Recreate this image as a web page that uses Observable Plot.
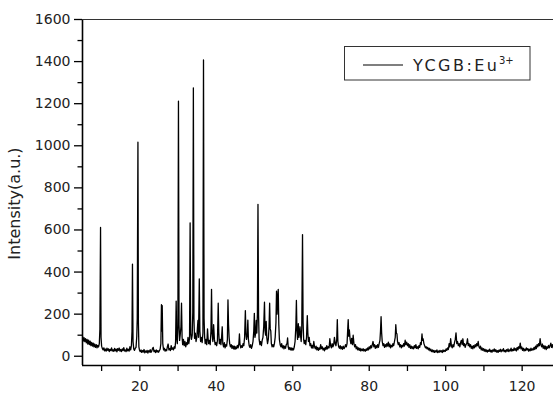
<!DOCTYPE html>
<html><head><meta charset="utf-8">
<script src="https://cdn.jsdelivr.net/npm/d3@7"></script>
<script src="https://cdn.jsdelivr.net/npm/@observablehq/plot@0.6"></script>
<style>
html,body{margin:0;padding:0;background:#fff;}
#chart{position:relative;width:553px;height:393px;overflow:hidden;}
</style>
</head><body><div id="chart"></div>
<script>
// 2-theta (deg), intensity (a.u.)
const scan05to20 = [[5.0,95],[5.2,72],[5.4,88],[5.6,70],[5.8,84],[6.0,64],[6.2,80],[6.4,58],[6.6,76],[6.8,55],[7.0,72],[7.2,50],[7.4,66],[7.6,48],[7.8,62],[8.0,45],[8.2,58],[8.4,42],[8.6,55],[8.8,40],[9.0,52],[9.2,44],[9.4,60],[9.55,128],[9.72,612],[9.85,90],[10.0,48],[10.2,36],[10.4,30],[10.6,40],[10.8,26],[11.0,34],[11.2,24],[11.4,38],[11.6,28],[11.8,35],[12.0,22],[12.2,33],[12.4,27],[12.6,40],[12.8,25],[13.0,31],[13.2,23],[13.4,37],[13.6,26],[13.8,34],[14.0,21],[14.2,36],[14.4,28],[14.6,39],[14.8,24],[15.0,32],[15.2,22],[15.4,35],[15.6,27],[15.8,41],[16.0,25],[16.2,30],[16.4,22],[16.6,38],[16.8,26],[17.0,33],[17.2,24],[17.4,45],[17.6,30],[17.8,52],[17.95,120],[18.07,438],[18.22,70],[18.4,35],[18.6,28],[18.8,38],[19.0,42],[19.2,95],[19.32,180],[19.5,1017],[19.62,160],[19.75,45],[19.9,30]];
const scan20to40 = [[20.1,22],[20.3,30],[20.5,18],[20.7,27],[20.9,20],[21.1,32],[21.3,16],[21.5,25],[21.7,19],[21.9,28],[22.1,15],[22.3,26],[22.5,20],[22.7,31],[22.9,18],[23.1,24],[23.3,36],[23.5,42],[23.7,22],[23.9,28],[24.1,17],[24.3,30],[24.5,20],[24.7,27],[24.9,19],[25.1,26],[25.3,33],[25.5,60],[25.65,245],[25.75,120],[25.85,240],[26.0,60],[26.2,30],[26.4,38],[26.6,24],[26.8,32],[27.0,26],[27.2,45],[27.4,58],[27.6,30],[27.8,36],[28.0,27],[28.2,50],[28.4,33],[28.6,40],[28.8,30],[29.0,45],[29.2,38],[29.35,70],[29.5,262],[29.65,90],[29.8,60],[29.95,140],[30.1,1212],[30.25,150],[30.4,75],[30.55,100],[30.75,140],[30.9,252],[31.05,90],[31.2,55],[31.4,80],[31.6,50],[31.8,70],[32.0,45],[32.2,65],[32.4,55],[32.6,90],[32.8,60],[33.0,85],[33.15,634],[33.3,110],[33.5,80],[33.7,100],[33.85,210],[34.0,1275],[34.15,180],[34.3,85],[34.5,110],[34.7,70],[34.9,90],[35.05,130],[35.2,170],[35.35,90],[35.55,368],[35.7,120],[35.9,70],[36.1,90],[36.3,65],[36.5,110],[36.65,1408],[36.8,180],[36.95,90],[37.1,60],[37.3,80],[37.5,55],[37.7,130],[37.85,85],[38.0,60],[38.2,75],[38.4,55],[38.6,120],[38.75,318],[38.9,110],[39.1,70],[39.3,150],[39.5,80],[39.7,55],[39.9,65]];
const scan40to65 = [[40.1,50],[40.3,75],[40.5,252],[40.65,110],[40.8,60],[41.0,80],[41.2,55],[41.4,95],[41.55,140],[41.7,60],[41.9,45],[42.1,65],[42.3,40],[42.5,55],[42.7,48],[42.9,80],[43.05,268],[43.2,150],[43.35,90],[43.5,60],[43.7,45],[43.9,55],[44.1,38],[44.3,50],[44.5,35],[44.7,48],[44.9,33],[45.1,45],[45.3,36],[45.5,52],[45.7,40],[45.9,60],[46.05,106],[46.2,55],[46.4,40],[46.6,50],[46.8,42],[47.0,60],[47.2,50],[47.4,90],[47.6,217],[47.75,110],[47.9,80],[48.1,100],[48.25,172],[48.4,80],[48.6,50],[48.8,42],[49.0,55],[49.2,38],[49.4,50],[49.6,70],[49.8,120],[49.95,204],[50.1,90],[50.3,110],[50.45,170],[50.6,110],[50.75,200],[50.9,722],[51.05,200],[51.2,80],[51.4,55],[51.6,70],[51.8,50],[52.0,75],[52.2,90],[52.4,140],[52.6,257],[52.75,120],[52.9,100],[53.05,165],[53.2,90],[53.4,60],[53.6,80],[53.8,140],[53.95,252],[54.1,130],[54.25,120],[54.4,60],[54.6,45],[54.8,55],[55.0,45],[55.2,60],[55.4,90],[55.6,160],[55.75,309],[55.9,200],[56.05,280],[56.2,318],[56.35,150],[56.5,80],[56.7,55],[56.9,45],[57.1,60],[57.3,40],[57.5,50],[57.7,35],[57.9,48],[58.1,38],[58.3,55],[58.5,60],[58.65,87],[58.8,45],[59.0,32],[59.2,42],[59.4,30],[59.6,40],[59.8,28],[60.0,38],[60.2,30],[60.4,45],[60.6,70],[60.8,140],[60.95,265],[61.1,120],[61.25,80],[61.45,155],[61.6,90],[61.75,110],[61.9,140],[62.05,95],[62.2,70],[62.35,130],[62.55,578],[62.7,160],[62.85,80],[63.0,60],[63.2,75],[63.4,55],[63.6,90],[63.8,193],[63.95,110],[64.1,70],[64.3,90],[64.5,50],[64.7,60],[64.9,40]];
const scan65to95 = [[65.1,52],[65.3,38],[65.5,70],[65.7,45],[65.9,35],[66.1,48],[66.3,30],[66.5,42],[66.7,28],[66.9,40],[67.1,32],[67.3,55],[67.5,36],[67.7,45],[67.9,30],[68.1,38],[68.3,26],[68.5,42],[68.7,33],[68.9,50],[69.1,35],[69.3,45],[69.5,40],[69.7,83],[69.9,50],[70.1,40],[70.3,60],[70.5,45],[70.7,55],[70.9,90],[71.1,60],[71.3,50],[71.5,80],[71.65,174],[71.8,70],[72.0,45],[72.2,38],[72.4,50],[72.6,35],[72.8,45],[73.0,33],[73.2,48],[73.4,36],[73.6,42],[73.8,55],[74.0,45],[74.2,60],[74.35,120],[74.5,174],[74.65,95],[74.8,125],[75.0,80],[75.2,60],[75.4,85],[75.6,55],[75.8,100],[76.0,60],[76.2,45],[76.4,55],[76.6,35],[76.8,45],[77.0,30],[77.2,40],[77.4,28],[77.6,38],[77.8,25],[78.0,34],[78.2,27],[78.4,36],[78.6,25],[78.8,32],[79.0,24],[79.2,35],[79.4,28],[79.6,40],[79.8,30],[80.0,45],[80.2,35],[80.4,50],[80.6,40],[80.8,55],[81.0,70],[81.2,45],[81.4,55],[81.6,38],[81.8,50],[82.0,40],[82.2,55],[82.4,42],[82.6,60],[82.8,75],[82.95,120],[83.1,188],[83.25,110],[83.4,70],[83.6,50],[83.8,60],[84.0,42],[84.2,55],[84.4,45],[84.6,60],[84.8,48],[85.0,67],[85.2,45],[85.4,58],[85.6,40],[85.8,52],[86.0,45],[86.2,60],[86.4,50],[86.6,70],[86.8,90],[86.95,150],[87.1,110],[87.25,106],[87.4,70],[87.6,55],[87.8,65],[88.0,45],[88.2,55],[88.4,40],[88.6,52],[88.8,45],[89.0,60],[89.2,48],[89.4,76],[89.6,55],[89.8,67],[90.0,50],[90.2,60],[90.4,42],[90.6,55],[90.8,38],[91.0,48],[91.2,36],[91.4,45],[91.6,35],[91.8,50],[92.0,40],[92.2,55],[92.4,38],[92.6,45],[92.8,35],[93.0,50],[93.2,42],[93.4,65],[93.6,55],[93.8,106],[93.95,75],[94.1,83],[94.3,60],[94.5,50],[94.7,40],[94.9,45]];
const scan95to128 = [[95.1,35],[95.3,42],[95.5,30],[95.7,38],[95.9,26],[96.1,34],[96.3,22],[96.5,30],[96.7,20],[96.9,28],[97.1,18],[97.3,26],[97.5,20],[97.7,30],[97.9,17],[98.1,25],[98.3,19],[98.5,28],[98.7,21],[98.9,26],[99.1,18],[99.3,30],[99.5,22],[99.7,28],[99.9,24],[100.1,35],[100.3,28],[100.5,40],[100.7,32],[100.9,60],[101.1,45],[101.3,83],[101.5,50],[101.7,40],[101.9,55],[102.1,45],[102.3,65],[102.5,80],[102.7,111],[102.9,60],[103.1,70],[103.3,50],[103.5,60],[103.7,45],[103.9,65],[104.1,76],[104.3,55],[104.5,83],[104.7,50],[104.9,60],[105.1,42],[105.3,55],[105.5,60],[105.7,83],[105.9,50],[106.1,60],[106.3,45],[106.5,55],[106.7,38],[106.9,48],[107.1,35],[107.3,50],[107.5,40],[107.7,55],[107.9,45],[108.1,60],[108.3,50],[108.5,70],[108.7,45],[108.9,38],[109.1,48],[109.3,30],[109.5,40],[109.7,28],[109.9,36],[110.1,24],[110.3,33],[110.5,22],[110.7,30],[110.9,20],[111.1,29],[111.3,23],[111.5,34],[111.7,21],[111.9,28],[112.1,19],[112.3,30],[112.5,24],[112.7,35],[112.9,22],[113.1,31],[113.3,20],[113.5,27],[113.7,18],[113.9,29],[114.1,23],[114.3,33],[114.5,21],[114.7,30],[114.9,25],[115.1,36],[115.3,22],[115.5,28],[115.7,20],[115.9,31],[116.1,24],[116.3,35],[116.5,22],[116.7,30],[116.9,26],[117.1,38],[117.3,24],[117.5,32],[117.7,27],[117.9,40],[118.1,28],[118.3,36],[118.5,25],[118.7,42],[118.9,30],[119.1,45],[119.3,38],[119.5,62],[119.7,35],[119.9,44],[120.1,28],[120.3,38],[120.5,25],[120.7,34],[120.9,27],[121.1,40],[121.3,30],[121.5,36],[121.7,24],[121.9,33],[122.1,26],[122.3,38],[122.5,28],[122.7,35],[122.9,30],[123.1,42],[123.3,32],[123.5,48],[123.7,36],[123.9,55],[124.1,45],[124.3,60],[124.5,50],[124.7,83],[124.9,55],[125.1,45],[125.3,58],[125.5,38],[125.7,50],[125.9,35],[126.1,48],[126.3,32],[126.5,45],[126.7,38],[126.9,52],[127.1,40],[127.3,50],[127.5,62],[127.7,42],[127.9,55],[128.1,40],[128.3,48]];

const xDomain = [5, 128.2];
const yDomain = [-44, 1600];
const xTicks = [20, 40, 60, 80, 100, 120];
const xMinorTicks = [10, 30, 50, 70, 90, 110];
const yTicks = [0, 200, 400, 600, 800, 1000, 1200, 1400, 1600];
const yMinorTicks = [100, 300, 500, 700, 900, 1100, 1300, 1500];
const yLabel = "Intensity(a.u.)";
const seriesName = "YCGB:Eu";
const seriesSup = "3+";

const scan = [...scan05to20, ...scan20to40, ...scan40to65, ...scan65to95, ...scan95to128];

const chart = Plot.plot({
  width: 553, height: 393,
  marginLeft: 82, marginRight: 0, marginTop: 19, marginBottom: 28,
  style: {fontFamily: "DejaVu Sans", fontSize: "14px", color: "#222", background: "#fff", overflow: "hidden"},
  x: {domain: xDomain},
  y: {domain: yDomain},
  marks: [
    Plot.line(scan, {x: d => d[0], y: d => d[1], stroke: "#000", strokeWidth: 1.3, clip: true}),
    Plot.axisY({ticks: yTicks, tickSize: 8, tickPadding: 4, tickFormat: d => String(d), label: null, stroke: "#000", strokeWidth: 1.3, fill: "#222"}),
    Plot.axisY({ticks: yMinorTicks, tickSize: 4.5, tickFormat: () => "", label: null, stroke: "#000", strokeWidth: 1.3}),
    Plot.axisX({ticks: xTicks, tickSize: 6, tickPadding: 10, tickFormat: d => String(d), label: null, stroke: "#000", strokeWidth: 1.3, fill: "#222"}),
    Plot.axisX({ticks: xMinorTicks, tickSize: 6, tickFormat: () => "", label: null, stroke: "#000", strokeWidth: 1.3}),
    Plot.ruleX([xDomain[0]], {stroke: "#000", strokeWidth: 1.6}),
    Plot.ruleY([yDomain[0]], {stroke: "#000", strokeWidth: 1.6}),
    Plot.ruleY([yDomain[1]], {stroke: "#333", strokeWidth: 1})
  ]
});
document.getElementById("chart").appendChild(chart);

const svg = d3.select(chart);
svg.append("text")
  .attr("transform", "translate(20,203.5) rotate(-90)")
  .attr("text-anchor", "middle")
  .attr("font-family", "DejaVu Sans").attr("font-size", 16).attr("fill", "#222")
  .text(yLabel);

const lg = svg.append("g").attr("text-anchor", "start");
lg.append("rect").attr("x", 344.5).attr("y", 46.5).attr("width", 185.5).attr("height", 33.5)
  .attr("fill", "#fff").attr("stroke", "#333").attr("stroke-width", 1);
lg.append("line").attr("x1", 363).attr("x2", 403).attr("y1", 65).attr("y2", 65)
  .attr("stroke", "#000").attr("stroke-width", 1.2);
lg.append("text").attr("x", 413).attr("y", 70.5).attr("text-anchor", "start")
  .attr("font-family", "DejaVu Sans").attr("font-size", 16).attr("fill", "#222")
  .attr("textLength", 84).attr("lengthAdjust", "spacing")
  .text(seriesName);
lg.append("text").attr("x", 499).attr("y", 64).attr("text-anchor", "start")
  .attr("font-family", "DejaVu Sans").attr("font-size", 10).attr("fill", "#222")
  .text(seriesSup);
</script>
</body></html>
